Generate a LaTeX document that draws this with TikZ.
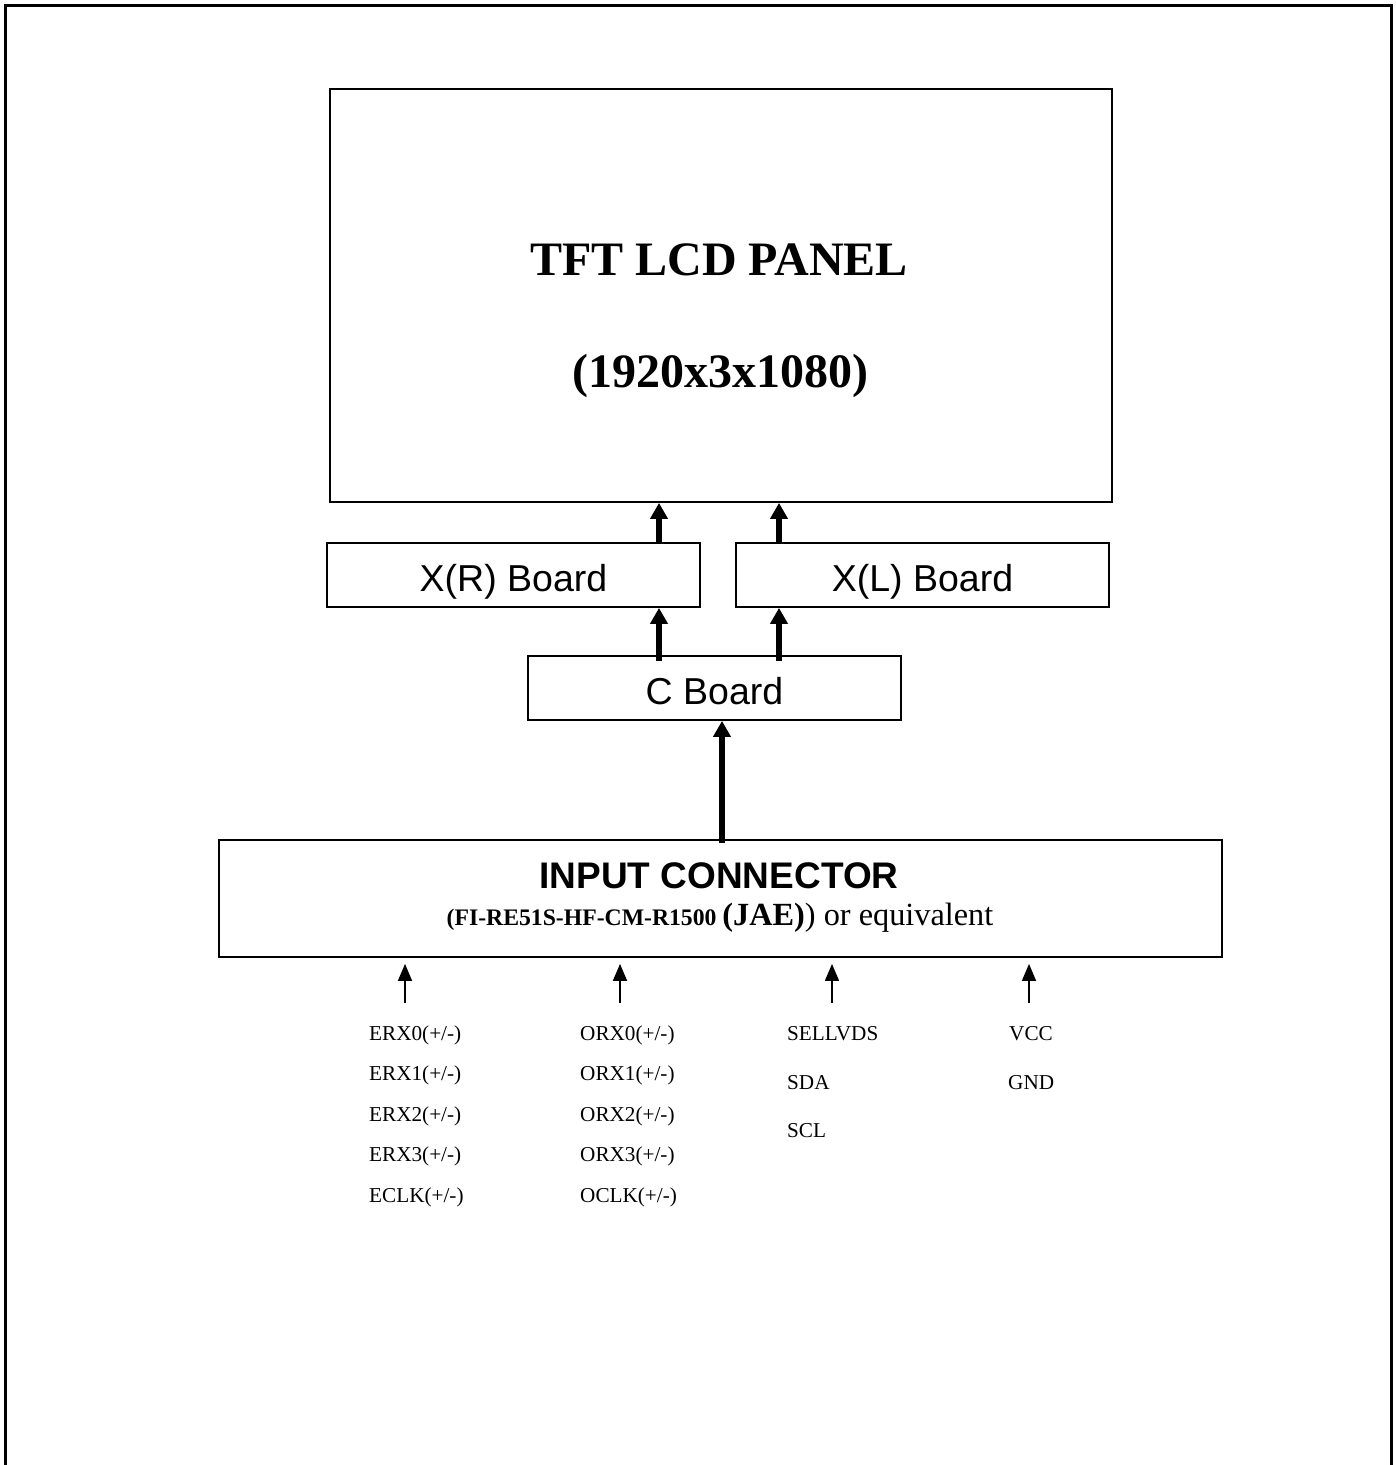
\documentclass[tikz,border=0pt]{standalone}
\usepackage{fontspec}
\setmainfont{Liberation Serif}
\newfontfamily\arialfont{Liberation Sans}
\usetikzlibrary{arrows.meta,positioning,calc}

\begin{document}
\begin{tikzpicture}[
    x=1pt, y=-1pt,
    box/.style={draw, line width=1.8pt, rectangle, inner sep=0pt, align=center},
    board/.style={box, minimum width=373pt, minimum height=64pt, text height=37pt, text depth=4pt,
        font=\arialfont\fontsize{37.5}{42}\selectfont},
    bigarrow/.style={line width=6pt, -{Triangle[width=17pt,length=16pt]}},
    sigarrow/.style={line width=1.6pt, -{Triangle[width=14pt,length=17pt]}},
    sig/.style={anchor=west, inner sep=0pt, font=\fontsize{21.2}{25}\selectfont},
]
    \useasboundingbox (0,0) rectangle (1396,1465);

    % Outer frame (open at the bottom)
    \draw[line width=2.2pt] (5.5,1470) -- (5.5,5.5) -- (1391.5,5.5) -- (1391.5,1470);

    % Panel
    \node[box, minimum width=782pt, minimum height=413pt] (panel) at (721,295.5) {};
    \node[font=\bfseries\fontsize{48}{56}\selectfont] (title) at (719,260) {TFT LCD PANEL};
    \node[font=\bfseries\fontsize{48}{56}\selectfont] (res) at (720,376) {(1920x3x1080)};

    % Boards
    \node[board] (xr) at (513.5,575) {X(R) Board};
    \node[board] (xl) at (922.5,575) {X(L) Board};
    \node[board] (cb) at (714.5,688) {C Board};

    % Input connector
    \node[box, minimum width=1003pt, minimum height=117pt] (conn) at (720.5,898.5) {};
    \node[font=\arialfont\bfseries\fontsize{37}{42}\selectfont] (conntitle) at (719,876)
        {INPUT CONNECTOR};
    \node[font=\fontsize{32.3}{36}\selectfont] (connsub) at (720,918)
        {{\bfseries\fontsize{23.7}{28}\selectfont(FI-RE51S-HF-CM-R1500 }\textbf{(JAE)}) or equivalent};

    % Arrows between blocks
    \draw[bigarrow] ([xshift=145.5pt]xr.north) -- ([xshift=145.5pt]xr.north |- panel.south);
    \draw[bigarrow] ([xshift=-143.5pt]xl.north) -- ([xshift=-143.5pt]xl.north |- panel.south);
    \draw[bigarrow] ([xshift=-55.5pt, yshift=-6pt]cb.north) -- ([xshift=-55.5pt]cb.north |- xr.south);
    \draw[bigarrow] ([xshift=64.5pt, yshift=-6pt]cb.north) -- ([xshift=64.5pt]cb.north |- xl.south);
    \draw[bigarrow] ([xshift=1.5pt, yshift=-4pt]conn.north) -- ([xshift=1.5pt]conn.north |- cb.south);

    % Signal groups
    \node[sig] (erx0) at (369,1035) {ERX0(+/-)};
    \node[sig] (erx1) at (369,1075.5) {ERX1(+/-)};
    \node[sig] (erx2) at (369,1116) {ERX2(+/-)};
    \node[sig] (erx3) at (369,1156.5) {ERX3(+/-)};
    \node[sig] (eclk) at (369,1197) {ECLK(+/-)};

    \node[sig] (orx0) at (580,1035) {ORX0(+/-)};
    \node[sig] (orx1) at (580,1075.5) {ORX1(+/-)};
    \node[sig] (orx2) at (580,1116) {ORX2(+/-)};
    \node[sig] (orx3) at (580,1156.5) {ORX3(+/-)};
    \node[sig] (oclk) at (580,1197) {OCLK(+/-)};

    \node[sig] (sellvds) at (787,1034) {SELLVDS};
    \node[sig] (sda) at (787,1082.5) {SDA};
    \node[sig] (scl) at (787,1131) {SCL};

    \node[sig] (vcc) at (1009,1034) {VCC};
    \node[sig] (gnd) at (1008,1082.5) {GND};

    % Signal arrows into connector
    \coordinate (ein) at (405,1003);
    \coordinate (oin) at (620,1003);
    \coordinate (cin) at (832,1003);
    \coordinate (pin) at (1029,1003);
    \draw[sigarrow, shorten >=6pt] (ein) -- (ein |- conn.south);
    \draw[sigarrow, shorten >=6pt] (oin) -- (oin |- conn.south);
    \draw[sigarrow, shorten >=6pt] (cin) -- (cin |- conn.south);
    \draw[sigarrow, shorten >=6pt] (pin) -- (pin |- conn.south);

\end{tikzpicture}
\end{document}
